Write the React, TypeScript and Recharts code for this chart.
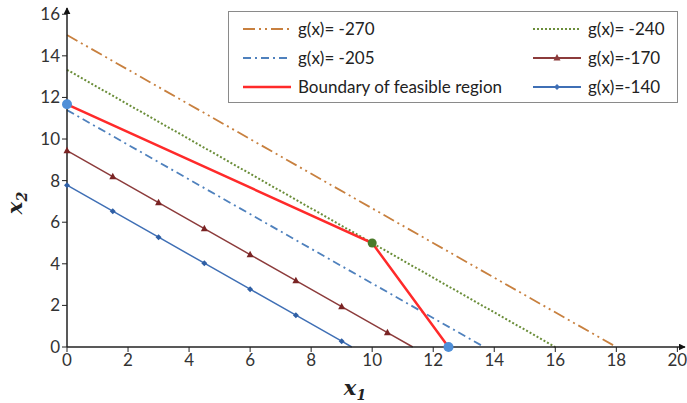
import { ComposedChart, Line, Scatter, XAxis, YAxis } from 'recharts'

// objective contours g(x) = -15 x1 - 18 x2
const g270 = [
  { x: 0, y: 15 },
  { x: 18, y: 0 },
]
const g240 = [
  { x: 0, y: 13.33 },
  { x: 16, y: 0 },
]
const g205 = [
  { x: 0, y: 11.39 },
  { x: 13.67, y: 0 },
]
const g170 = [
  { x: 0, y: 9.44 },
  { x: 1.5, y: 8.19 },
  { x: 3, y: 6.94 },
  { x: 4.5, y: 5.69 },
  { x: 6, y: 4.44 },
  { x: 7.5, y: 3.19 },
  { x: 9, y: 1.94 },
  { x: 10.5, y: 0.69 },
  { x: 11.33, y: 0 },
]
const g140 = [
  { x: 0, y: 7.78 },
  { x: 1.5, y: 6.53 },
  { x: 3, y: 5.28 },
  { x: 4.5, y: 4.03 },
  { x: 6, y: 2.78 },
  { x: 7.5, y: 1.53 },
  { x: 9, y: 0.28 },
  { x: 9.33, y: 0 },
]
const boundary = [
  { x: 0, y: 11.67 },
  { x: 10, y: 5 },
  { x: 12.5, y: 0 },
]
const cornerBlue = [
  { x: 0, y: 11.67 },
  { x: 12.5, y: 0 },
]
const cornerGreen = [{ x: 10, y: 5 }]

const xTicks = [0, 2, 4, 6, 8, 10, 12, 14, 16, 18, 20]
const yTicks = [0, 2, 4, 6, 8, 10, 12, 14, 16]

const legendLeft = [
  { name: 'g(x)= -270', color: '#c8803f', dash: '12 4 2 4 2 4', marker: '' },
  { name: 'g(x)= -205', color: '#4f81bd', dash: '8 4 2 4', marker: '' },
  { name: 'Boundary of feasible region', color: '#ff2a2a', dash: '', marker: '' },
]
const legendRight = [
  { name: 'g(x)= -240', color: '#6b8e3a', dash: '2 2', marker: '' },
  { name: 'g(x)=-170', color: '#8c3b3b', dash: '', marker: 'tri' },
  { name: 'g(x)=-140', color: '#3f6fb5', dash: '', marker: 'dia' },
]

const FONT = 'Lato, "Open Sans", sans-serif'

function markerDot(kind: string, color: string, lastIndex: number) {
  return (p: any) => {
    const { cx, cy, index } = p
    if (index === lastIndex || cx == null) return <g key={`m-${index}`} />
    if (kind === 'tri') {
      return (
        <path
          key={`m-${index}`}
          d={`M${cx},${cy - 4} L${cx + 3.5},${cy + 2.5} L${cx - 3.5},${cy + 2.5} Z`}
          fill={color}
        />
      )
    }
    return (
      <path
        key={`m-${index}`}
        d={`M${cx},${cy - 3} L${cx + 3},${cy} L${cx},${cy + 3} L${cx - 3},${cy} Z`}
        fill={color}
      />
    )
  }
}

function LegendRow({ item }: { item: any }) {
  return (
    <div style={{ display: 'flex', alignItems: 'center', height: 29 }}>
      <svg width={50} height={12} style={{ marginRight: 5 }}>
        <line
          x1={0}
          y1={6}
          x2={48}
          y2={6}
          stroke={item.color}
          strokeWidth={item.color === '#ff2a2a' ? 2.5 : 1.8}
          strokeDasharray={item.dash || undefined}
        />
        {item.marker === 'tri' && <path d="M24,2 L27.5,8.5 L20.5,8.5 Z" fill={item.color} />}
        {item.marker === 'dia' && <path d="M24,3 L27,6 L24,9 L21,6 Z" fill={item.color} />}
      </svg>
      <span>{item.name}</span>
    </div>
  )
}

export default function App() {
  return (
    <div style={{ position: 'absolute', left: 0, top: 0, width: 687, height: 403, background: '#fff', fontFamily: FONT }}>
      <ComposedChart
        width={687}
        height={403}
        margin={{ top: 8, right: 2, left: 27, bottom: 0 }}
      >
        <defs>
          <marker
            id="axArrow"
            viewBox="0 0 10 10"
            refX="9"
            refY="5"
            markerWidth="7"
            markerHeight="7"
            markerUnits="userSpaceOnUse"
            orient="auto-start-reverse"
          >
            <path d="M0,0 L10,5 L0,10 Z" fill="#111" />
          </marker>
        </defs>
        <XAxis
          type="number"
          dataKey="x"
          domain={[0, 20.25]}
          ticks={xTicks}
          height={56}
          tickSize={5}
          interval={0}
          axisLine={{ stroke: '#222', strokeWidth: 1.5, markerEnd: 'url(#axArrow)' }}
          tickLine={{ stroke: '#222' }}
          tick={{ fill: '#333', fontSize: 17, fontFamily: FONT }}
          label={(props: any) => (
            <text
              x={355}
              y={395}
              textAnchor="middle"
              fontFamily='"DejaVu Serif", serif'
              fontStyle="italic"
              fontWeight="bold"
              fontSize={21}
              fill="#222"
            >
              x<tspan fontSize={14} dy={5}>1</tspan>
            </text>
          )}
        />
        <YAxis
          type="number"
          dataKey="y"
          domain={[0, 16.3]}
          ticks={yTicks}
          width={40}
          tickSize={5}
          interval={0}
          axisLine={{ stroke: '#222', strokeWidth: 1.5, markerStart: 'url(#axArrow)' }}
          tickLine={{ stroke: '#222' }}
          tick={{ fill: '#333', fontSize: 17, fontFamily: FONT }}
          label={(props: any) => (
            <text
              x={0}
              y={0}
              transform="translate(22,203) rotate(-90)"
              textAnchor="middle"
              fontFamily='"DejaVu Serif", serif'
              fontStyle="italic"
              fontWeight="bold"
              fontSize={21}
              fill="#222"
            >
              x<tspan fontSize={14} dy={5}>2</tspan>
            </text>
          )}
        />
        <Line data={g270} dataKey="y" stroke="#c8803f" strokeWidth={1.8} strokeDasharray="12 4 2 4 2 4" dot={false} isAnimationActive={false} />
        <Line data={g240} dataKey="y" stroke="#6b8e3a" strokeWidth={2} strokeDasharray="2 2" dot={false} isAnimationActive={false} />
        <Line data={g205} dataKey="y" stroke="#4f81bd" strokeWidth={1.8} strokeDasharray="8 4 2 4" dot={false} isAnimationActive={false} />
        <Line data={g170} dataKey="y" stroke="#8c3b3b" strokeWidth={1.5} dot={markerDot('tri', '#7a2424', g170.length - 1)} isAnimationActive={false} />
        <Line data={g140} dataKey="y" stroke="#3f6fb5" strokeWidth={1.5} dot={markerDot('dia', '#2f5fa5', g140.length - 1)} isAnimationActive={false} />
        <Line data={boundary} dataKey="y" stroke="#ff2a2a" strokeWidth={2.5} dot={false} isAnimationActive={false} />
        <Scatter data={cornerBlue} dataKey="y" fill="#4f8fd8" shape={(p: any) => <circle cx={p.cx} cy={p.cy} r={5} fill="#4f8fd8" />} isAnimationActive={false} />
        <Scatter data={cornerGreen} dataKey="y" fill="#4a7a2a" shape={(p: any) => <circle cx={p.cx} cy={p.cy} r={4.5} fill="#4a7a2a" />} isAnimationActive={false} />
      </ComposedChart>
      <div
        style={{
          position: 'absolute',
          left: 228,
          top: 11,
          width: 450,
          height: 92,
          border: '1.5px solid #8a8a8a',
          background: '#fff',
          boxSizing: 'border-box',
          display: 'flex',
          fontSize: 17,
          color: '#222',
          padding: '2px 0 0 14px',
        }}
      >
        <div style={{ width: 290 }}>
          {legendLeft.map((it) => (
            <LegendRow key={it.name} item={it} />
          ))}
        </div>
        <div>
          {legendRight.map((it) => (
            <LegendRow key={it.name} item={it} />
          ))}
        </div>
      </div>
    </div>
  )
}
